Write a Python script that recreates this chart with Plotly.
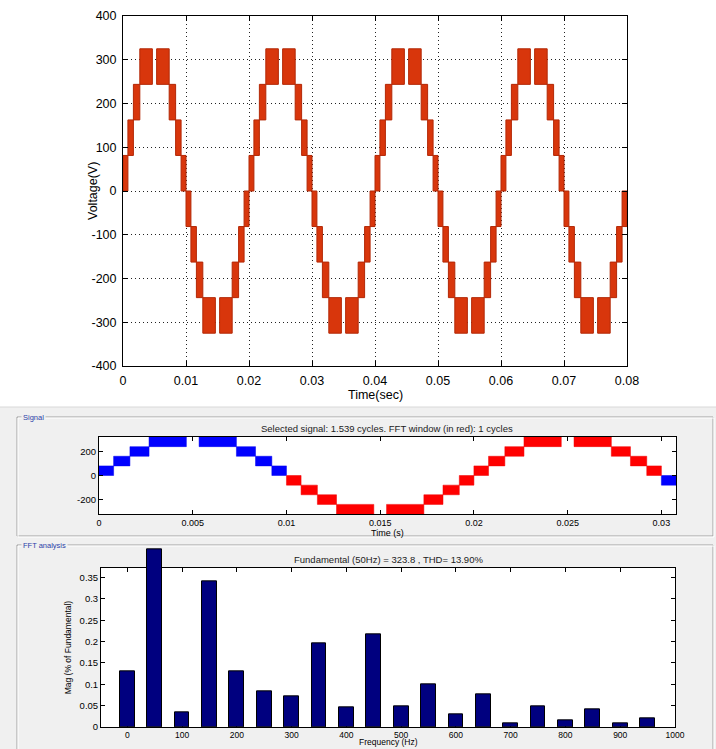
import plotly.graph_objects as go

# ---------------- data ----------------
PERIOD = 0.02            # s, 50 Hz
TOP_CYCLES = 4
# one positive half-cycle of the multilevel switching pattern:
# each block = [start, end] in seconds, switching between blk_low and blk_high (V)
blk_start = [0.0, 0.00078, 0.00165, 0.00267, 0.00534, 0.00733, 0.00835, 0.00922]
blk_end = [0.00078, 0.00165, 0.00267, 0.00466, 0.00733, 0.00835, 0.00922, 0.01]
blk_low = [0.0, 81.25, 162.5, 243.75, 243.75, 162.5, 81.25, 0.0]
blk_high = [81.25, 162.5, 243.75, 325.0, 325.0, 243.75, 162.5, 81.25]

top_xticks = [0, 0.01, 0.02, 0.03, 0.04, 0.05, 0.06, 0.07, 0.08]
top_xtext = ["0", "0.01", "0.02", "0.03", "0.04", "0.05", "0.06", "0.07", "0.08"]
top_yticks = [-400, -300, -200, -100, 0, 100, 200, 300, 400]
top_ytext = ["-400", "-300", "-200", "-100", "0", "100", "200", "300", "400"]

sig_end = 0.03078          # 1.539 cycles shown
win_start, win_end = 0.01, 0.03   # FFT window (in red)
sig_xticks = [0, 0.005, 0.01, 0.015, 0.02, 0.025, 0.03]
sig_xtext = ["0", "0.005", "0.01", "0.015", "0.02", "0.025", "0.03"]
sig_yticks = [-200, 0, 200]
sig_ytext = ["-200", "0", "200"]

fft_freq = [0, 50, 100, 150, 200, 250, 300, 350, 400, 450,
            500, 550, 600, 650, 700, 750, 800, 850, 900, 950]
fft_mag = [0.131, 0.416, 0.0345, 0.340, 0.131, 0.0827, 0.0712, 0.197, 0.0467, 0.216,
           0.0475, 0.100, 0.030, 0.076, 0.0084, 0.0475, 0.016, 0.042, 0.0084, 0.0214]
fft_xticks = [0, 100, 200, 300, 400, 500, 600, 700, 800, 900, 1000]
fft_yticks = [0, 0.05, 0.1, 0.15, 0.2, 0.25, 0.3, 0.35]
fft_ytext = ["0", "0.05", "0.1", "0.15", "0.2", "0.25", "0.3", "0.35"]

# ---------------- helpers ----------------
W, H = 716, 749
def px(x):
    return x / W
def py(y):
    return 1 - y / H

def blocks(n_cycles):
    """(t0, t1, lo, hi) for every switching block"""
    out = []
    for k in range(n_cycles):
        for h in (0, 1):
            sgn = -1 if h else 1
            off = k * PERIOD + h * PERIOD / 2
            for s, e, lo, hi in zip(blk_start, blk_end, blk_low, blk_high):
                out.append((off + s, off + e, sgn * lo, sgn * hi))
    return out

def poly(blks):
    xs, ys = [], []
    for t0, t1, lo, hi in blks:
        xs += [t0, t1, t1, t0, t0, None]
        ys += [lo, lo, hi, hi, lo, None]
    return xs, ys

FONT = "Liberation Sans, Arial, sans-serif"

fig = go.Figure()

# ---- top waveform ----
tx, ty = poly(blocks(TOP_CYCLES))
fig.add_trace(go.Scatter(x=tx, y=ty, mode="lines", fill="toself",
                         fillcolor="#d8360c", line=dict(color="#b32806", width=1),
                         xaxis="x", yaxis="y", hoverinfo="skip", showlegend=False))

# ---- signal panel ----
sblk = [b for b in blocks(2) if b[0] < sig_end]
blue = [b for b in sblk if not (win_start <= (b[0] + b[1]) / 2 <= win_end)]
red = [b for b in sblk if (win_start <= (b[0] + b[1]) / 2 <= win_end)]
bx, by = poly(blue)
rx, ry = poly(red)
fig.add_trace(go.Scatter(x=bx, y=by, mode="lines", fill="toself", fillcolor="#0000ff",
                         line=dict(color="#0000ee", width=0.5), xaxis="x2", yaxis="y2",
                         hoverinfo="skip", showlegend=False))
fig.add_trace(go.Scatter(x=rx, y=ry, mode="lines", fill="toself", fillcolor="#ff0000",
                         line=dict(color="#ee0000", width=0.5), xaxis="x2", yaxis="y2",
                         hoverinfo="skip", showlegend=False))

# ---- FFT bars (on overlay axes so the 50 Hz bar can exceed the frame) ----
fig.add_trace(go.Scatter(x=[None], y=[None], xaxis="x3", yaxis="y3", showlegend=False))
fig.add_trace(go.Bar(x=fft_freq, y=fft_mag, width=27, marker=dict(color="#00007f",
                     line=dict(color="black", width=1)), xaxis="x4", yaxis="y4",
                     hoverinfo="skip", showlegend=False))

# domains
top_x = [px(123), px(627)]
top_y = [py(366), py(16)]
sig_x = [px(99), px(676)]
sig_y = [py(514), py(437)]
fft_x = [px(101), px(675)]
fft_y = [py(727), py(567.7)]
FFT_TOP = 0.373
BAR_TOP = 0.43
bar_y = [fft_y[0], fft_y[0] + (fft_y[1] - fft_y[0]) * BAR_TOP / FFT_TOP]
FFT_XR = [-48, 1000]

axcommon = dict(showline=True, linecolor="black", linewidth=1, mirror="ticks",
                ticks="inside", tickcolor="black", zeroline=False, automargin=False)
grid = dict(showgrid=True, gridcolor="#222222", griddash="1px,3px", gridwidth=1)

fig.update_layout(
    width=W, height=H, autosize=False,
    margin=dict(l=0, r=0, t=0, b=0, pad=0),
    paper_bgcolor="white", plot_bgcolor="rgba(0,0,0,0)",
    font=dict(family=FONT, color="black"),
    xaxis=dict(domain=top_x, range=[0, 0.08], tickvals=top_xticks, ticktext=top_xtext,
               ticklen=5, tickfont=dict(size=12.5), ticklabelstandoff=3, anchor="y",
               **axcommon, **grid),
    yaxis=dict(domain=top_y, range=[-400, 400], tickvals=top_yticks, ticktext=top_ytext,
               ticklen=5, tickfont=dict(size=12.5), ticklabelstandoff=3, anchor="x",
               **axcommon, **grid),
    xaxis2=dict(domain=sig_x, range=[0, sig_end], tickvals=sig_xticks, ticktext=sig_xtext,
                ticklen=4, tickfont=dict(size=9), anchor="y2", showgrid=False, **axcommon),
    yaxis2=dict(domain=sig_y, range=[-325, 325], tickvals=sig_yticks, ticktext=sig_ytext,
                ticklen=4, tickfont=dict(size=9.5), anchor="x2", showgrid=False, **axcommon),
    xaxis3=dict(domain=fft_x, range=FFT_XR, tickvals=fft_xticks,
                ticklen=4, tickfont=dict(size=8.5), anchor="y3", showgrid=False, **axcommon),
    yaxis3=dict(domain=fft_y, range=[0, FFT_TOP], tickvals=fft_yticks, ticktext=fft_ytext,
                ticklen=4, tickfont=dict(size=9.5), anchor="x3", showgrid=False, **axcommon),
    xaxis4=dict(domain=fft_x, range=FFT_XR, visible=False, anchor="y4", automargin=False),
    yaxis4=dict(domain=bar_y, range=[0, BAR_TOP], visible=False, anchor="x4", automargin=False),
    bargap=0,
)

shapes = [
    dict(type="rect", xref="paper", yref="paper", x0=0, x1=1, y0=0, y1=py(407),
         fillcolor="#f0f0f0", line=dict(width=0), layer="below"),
    dict(type="line", xref="paper", yref="paper", x0=0, x1=1, y0=py(407), y1=py(407),
         line=dict(color="#d8d8d8", width=1), layer="below"),
    # etched frames
    dict(type="rect", xref="paper", yref="paper", x0=px(17), x1=px(713), y0=py(536), y1=py(417),
         line=dict(color="#a0a0a0", width=1), layer="below"),
    dict(type="rect", xref="paper", yref="paper", x0=px(18), x1=px(714), y0=py(537), y1=py(418),
         line=dict(color="#ffffff", width=1), layer="below"),
    dict(type="rect", xref="paper", yref="paper", x0=px(17), x1=px(713), y0=-0.02, y1=py(545),
         line=dict(color="#a0a0a0", width=1), layer="below"),
    dict(type="rect", xref="paper", yref="paper", x0=px(18), x1=px(714), y0=-0.02, y1=py(546),
         line=dict(color="#ffffff", width=1), layer="below"),
    # white plot areas
    dict(type="rect", xref="paper", yref="paper", x0=sig_x[0], x1=sig_x[1], y0=sig_y[0], y1=sig_y[1],
         fillcolor="white", line=dict(width=0), layer="below"),
    dict(type="rect", xref="paper", yref="paper", x0=fft_x[0], x1=fft_x[1], y0=fft_y[0], y1=fft_y[1],
         fillcolor="white", line=dict(width=0), layer="below"),
]
fig.update_layout(shapes=shapes)

ann = [
    dict(text="Time(sec)", x=(top_x[0] + top_x[1]) / 2, y=py(395), font=dict(size=12.5)),
    dict(text="Voltage(V)", x=px(93), y=(top_y[0] + top_y[1]) / 2, textangle=-90, font=dict(size=12.5)),
    dict(text="Selected signal: 1.539 cycles. FFT window (in red): 1 cycles",
         x=(sig_x[0] + sig_x[1]) / 2, y=py(428), font=dict(size=9.5, color="#222")),
    dict(text="Time (s)", x=(sig_x[0] + sig_x[1]) / 2, y=py(532.5), font=dict(size=9)),
    dict(text="Fundamental (50Hz) = 323.8 , THD= 13.90%",
         x=(fft_x[0] + fft_x[1]) / 2, y=py(559), font=dict(size=9.5, color="#222")),
    dict(text="Frequency (Hz)", x=(fft_x[0] + fft_x[1]) / 2, y=py(748.5), yanchor="bottom",
         font=dict(size=8.5)),
    dict(text="Mag (% of Fundamental)", x=px(68), y=(fft_y[0] + fft_y[1]) / 2, textangle=-90,
         font=dict(size=8.5)),
    dict(text="Signal", x=px(21), y=py(417), xanchor="left", bgcolor="#f0f0f0",
         font=dict(size=7.5, color="#2b3fa8")),
    dict(text="FFT analysis", x=px(21), y=py(545), xanchor="left", bgcolor="#f0f0f0",
         font=dict(size=7.5, color="#2b3fa8")),
]
for a in ann:
    a.setdefault("xanchor", "center")
    a.setdefault("yanchor", "middle")
    a.update(xref="paper", yref="paper", showarrow=False)
fig.update_layout(annotations=ann)

fig.write_html("out.html", config={"displayModeBar": False},
               post_script="document.body.style.margin='0';document.body.style.overflow='hidden';")
